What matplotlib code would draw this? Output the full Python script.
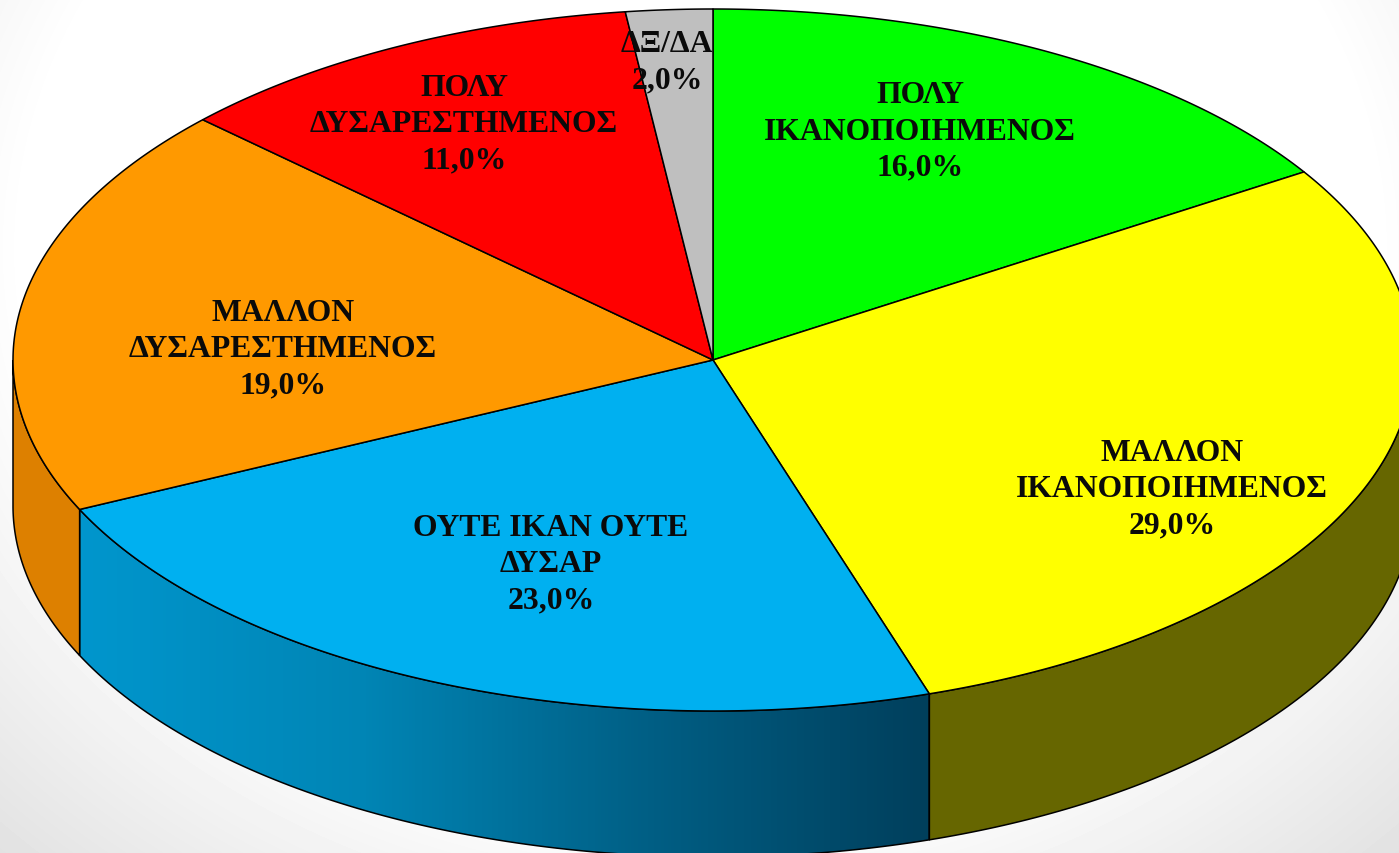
import matplotlib
matplotlib.use('Agg')
import matplotlib.pyplot as plt
import numpy as np
from matplotlib.colors import LinearSegmentedColormap
from matplotlib.patches import Polygon

names = ['ΠΟΛΥ\nΙΚΑΝΟΠΟΙΗΜΕΝΟΣ', 'ΜΑΛΛΟΝ\nΙΚΑΝΟΠΟΙΗΜΕΝΟΣ', 'ΟΥΤΕ ΙΚΑΝ ΟΥΤΕ\nΔΥΣΑΡ',
         'ΜΑΛΛΟΝ\nΔΥΣΑΡΕΣΤΗΜΕΝΟΣ', 'ΠΟΛΥ\nΔΥΣΑΡΕΣΤΗΜΕΝΟΣ', 'ΔΞ/ΔΑ']
values = [16.0, 29.0, 23.0, 19.0, 11.0, 2.0]
colours = ['#00ff00', '#ffff00', '#00b0f0', '#ff9900', '#ff0000', '#bfbfbf']
side_colours = ['#009900', '#666600', None, '#dd8000', '#990000', '#737373']
label_x = [920, 1172, 551, 283, 464, 667]
label_y = [132, 490, 565, 350, 125, 63]

# pie geometry in pixels
cx, cy = 713, 361
rx, ry = 700, 351
depth = 146


def rim(t):
    return cx + rx * np.sin(t), cy - ry * np.cos(t)


fig = plt.figure(figsize=(13.99, 8.54), dpi=100)
ax = fig.add_axes([0, 0, 1, 1])

# background
xx, yy = np.meshgrid(np.arange(1399), np.arange(854))
d = np.sqrt(((xx - 700) / 900) ** 2 + ((yy - 250) / 750) ** 2)
shade = 1 - 0.115 * np.clip((d - 0.75) / 0.37, 0, None)
ax.imshow(shade, cmap='gray', vmin=0, vmax=1, extent=(0, 1399, 854, 0), aspect='auto', zorder=0)

edges = np.radians(np.cumsum([0] + values) * 3.6)
blue_side = LinearSegmentedColormap.from_list('side', ['#0096cd', '#0085b5', '#005f85', '#003f5c'])

# side walls first, only the front half shows
for i in range(len(values)):
    t1 = max(edges[i], np.pi / 2)
    t2 = min(edges[i + 1], 3 * np.pi / 2)
    if t2 <= t1:
        continue
    t = np.linspace(t1, t2, 100)
    x, y = rim(t)
    pts = np.column_stack([np.r_[x, x[::-1]], np.r_[y, y[::-1] + depth]])
    if side_colours[i] is None:
        wall = Polygon(pts, closed=True, fc='none', ec='k', lw=1.1, zorder=2)
        ax.add_patch(wall)
        grad = ax.imshow(np.linspace(0, 1, 256).reshape(1, -1), cmap=blue_side, aspect='auto', zorder=1,
                         extent=(x.min(), x.max(), 854, 0))
        grad.set_clip_path(wall)
    else:
        ax.add_patch(Polygon(pts, closed=True, fc=side_colours[i], ec='k', lw=1.1, zorder=2))

# top face
for i in range(len(values)):
    t = np.linspace(edges[i], edges[i + 1], 200)
    x, y = rim(t)
    pts = np.column_stack([np.r_[cx, x], np.r_[cy, y]])
    ax.add_patch(Polygon(pts, closed=True, fc=colours[i], ec='k', lw=1.1, joinstyle='round', zorder=3))

for i in range(len(values)):
    label = names[i] + '\n' + f'{values[i]:.1f}'.replace('.', ',') + '%'
    ax.text(label_x[i], label_y[i], label, ha='center', va='center', family='Liberation Serif',
            fontweight='bold', fontsize=22.8, linespacing=1.33, color='#0a0a0a', zorder=4)

ax.set_xlim(0, 1399)
ax.set_ylim(854, 0)
ax.axis('off')
fig.savefig('out.png', dpi=100)
